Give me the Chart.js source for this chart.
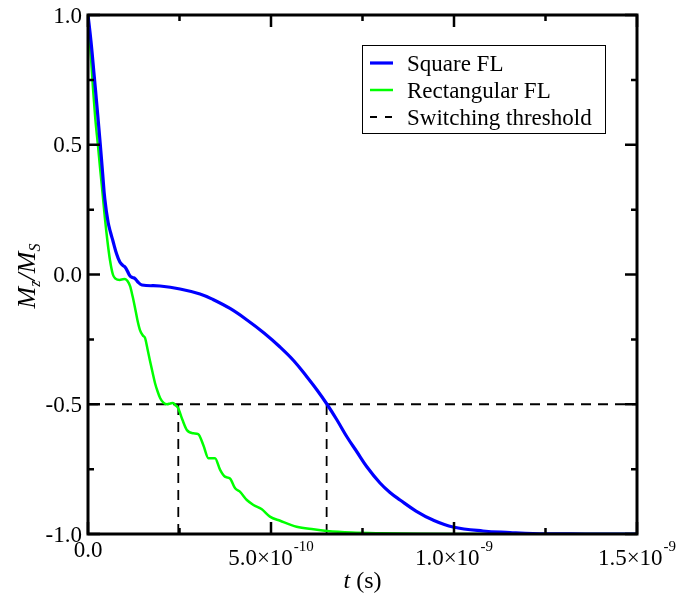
<!DOCTYPE html>
<html>
<head>
<meta charset="utf-8">
<script src="https://cdn.jsdelivr.net/npm/chart.js@4.4.0/dist/chart.umd.min.js"></script>
<style>
  html, body { margin: 0; padding: 0; background: #fff; }
  #wrap { width: 679px; height: 594px; }
</style>
</head>
<body>
<div id="wrap"><canvas id="mzChart" width="679" height="594"></canvas></div>
<script>
// time in ns, Mz/Ms
const tSquare = [0, 0.008, 0.016, 0.025, 0.033, 0.040, 0.046, 0.055, 0.062, 0.068, 0.078, 0.087, 0.095, 0.101,
    0.108, 0.115, 0.122, 0.128, 0.135, 0.1475, 0.1967, 0.2514, 0.306, 0.3415, 0.388, 0.4344, 0.4809, 0.5246,
    0.5628, 0.5984, 0.6257, 0.653, 0.6803, 0.7077, 0.735, 0.7623, 0.7978, 0.8251, 0.8525, 0.8962, 0.9426,
    0.9973, 1.0792, 1.153, 1.2158, 1.3169, 1.4, 1.5];
const mzSquare = [1.0, 0.90, 0.78, 0.64, 0.51, 0.39, 0.29, 0.20, 0.16, 0.13, 0.08, 0.048, 0.035, 0.029,
    0.012, -0.006, -0.012, -0.015, -0.027, -0.0405, -0.0443, -0.0559, -0.0752, -0.0963, -0.131, -0.1753, -0.2254, -0.2794,
    -0.3333, -0.395, -0.4451, -0.5, -0.5607, -0.6262, -0.684, -0.7418, -0.8035, -0.8401, -0.869, -0.9114, -0.9461,
    -0.973, -0.9884, -0.9942, -0.9981, -0.9999, -1.0, -1.0];

const tRect = [0, 0.007, 0.014, 0.020, 0.027, 0.033, 0.040, 0.046, 0.053, 0.060, 0.068, 0.075, 0.087, 0.095,
    0.101, 0.108, 0.115, 0.122, 0.128, 0.135, 0.142, 0.150, 0.156, 0.163, 0.169, 0.176, 0.183, 0.190, 0.197,
    0.206, 0.216, 0.225, 0.232, 0.240, 0.246, 0.258, 0.270, 0.288, 0.301, 0.315, 0.329, 0.347, 0.361, 0.374,
    0.388, 0.402, 0.415, 0.434, 0.452, 0.475, 0.497, 0.525, 0.570, 0.616, 0.653, 0.720, 0.800, 0.900, 1.000, 1.500];
const mzRect = [1.0, 0.86, 0.71, 0.60, 0.50, 0.41, 0.31, 0.22, 0.13, 0.056, 0.0, -0.016, -0.021, -0.018,
    -0.017, -0.025, -0.045, -0.085, -0.125, -0.175, -0.214, -0.235, -0.245, -0.29, -0.33, -0.375, -0.418, -0.45, -0.476,
    -0.494, -0.5, -0.497, -0.495, -0.505, -0.514, -0.56, -0.599, -0.612, -0.615, -0.657, -0.708, -0.708, -0.753, -0.779,
    -0.786, -0.824, -0.837, -0.869, -0.888, -0.905, -0.933, -0.949, -0.972, -0.982, -0.988, -0.994, -0.997, -0.999, -1.0, -1.0];

const thresholdLevel = -0.5;
const switchTimes = [0.2467, 0.652]; // ns

const legendLabels = ['Square FL', 'Rectangular FL', 'Switching threshold'];

const xMajorTicks = [0, 5e-10, 1e-9, 1.5e-9];
const xMinorTicks = [2.5e-10, 7.5e-10, 1.25e-9];
const xTickLabels = ['0.0', '5.0×10', '1.0×10', '1.5×10'];
const xTickExponents = ['', '-10', '-9', '-9'];
const yMajorTicks = [-1, -0.5, 0, 0.5, 1];
const yMinorTicks = [-0.75, -0.25, 0.25, 0.75];
const yTickLabels = ['-1.0', '-0.5', '0.0', '0.5', '1.0'];

const SERIF = '"Liberation Serif", "Times New Roman", serif';

function toPoints(ts, ys) {
    return ts.map((t, i) => ({ x: t * 1e-9, y: ys[i] }));
}

const dashStyle = { borderColor: '#000', borderWidth: 1.8, borderDash: [10, 7], pointRadius: 0, fill: false };

const datasets = [
    {
        label: legendLabels[0],
        data: toPoints(tSquare, mzSquare),
        borderColor: '#0000ff',
        borderWidth: 3.2,
        pointRadius: 0,
        tension: 0.4,
        fill: false
    },
    {
        label: legendLabels[1],
        data: toPoints(tRect, mzRect),
        borderColor: '#00ff00',
        borderWidth: 2.5,
        pointRadius: 0,
        cubicInterpolationMode: 'monotone',
        fill: false
    },
    Object.assign({ label: legendLabels[2], data: [{ x: 0, y: thresholdLevel }, { x: 1.5e-9, y: thresholdLevel }] }, dashStyle)
];
switchTimes.forEach(t => {
    datasets.push(Object.assign({ label: '', data: [{ x: t * 1e-9, y: -1 }, { x: t * 1e-9, y: thresholdLevel }] }, dashStyle));
});

// frame, inward ticks, labels, titles and legend in the grace style
const framePlugin = {
    id: 'frame',
    afterDatasetsDraw(chart) {
        const ctx = chart.ctx;
        const a = chart.chartArea;
        const xs = chart.scales.x, ys = chart.scales.y;
        ctx.save();
        ctx.strokeStyle = '#000';
        ctx.lineWidth = 3;
        ctx.strokeRect(a.left, a.top, a.right - a.left, a.bottom - a.top);

        ctx.lineWidth = 2.5;
        ctx.beginPath();
        const tick = (vals, len) => {
            vals.forEach(v => {
                const px = xs.getPixelForValue(v);
                ctx.moveTo(px, a.bottom); ctx.lineTo(px, a.bottom - len);
                ctx.moveTo(px, a.top); ctx.lineTo(px, a.top + len);
            });
        };
        const ytick = (vals, len) => {
            vals.forEach(v => {
                const py = ys.getPixelForValue(v);
                ctx.moveTo(a.left, py); ctx.lineTo(a.left + len, py);
                ctx.moveTo(a.right, py); ctx.lineTo(a.right - len, py);
            });
        };
        tick(xMajorTicks, 12); tick(xMinorTicks, 6);
        ytick(yMajorTicks, 12); ytick(yMinorTicks, 6);
        ctx.stroke();

        ctx.fillStyle = '#000';
        // x tick labels
        const mainFont = '23px ' + SERIF, supFont = '15px ' + SERIF;
        xMajorTicks.forEach((v, i) => {
            const px = xs.getPixelForValue(v);
            ctx.font = mainFont;
            const wMain = ctx.measureText(xTickLabels[i]).width;
            ctx.font = supFont;
            const wSup = xTickExponents[i] ? ctx.measureText(xTickExponents[i]).width + 1 : 0;
            const x0 = px - (wMain + wSup) / 2;
            ctx.textAlign = 'left';
            ctx.textBaseline = 'alphabetic';
            ctx.font = mainFont;
            if (xTickExponents[i]) {
                ctx.fillText(xTickLabels[i], x0, a.bottom + 31);
                ctx.font = supFont;
                ctx.fillText(xTickExponents[i], x0 + wMain + 1, a.bottom + 17);
            } else {
                ctx.fillText(xTickLabels[i], x0, a.bottom + 23);
            }
        });
        // y tick labels
        ctx.font = mainFont;
        ctx.textAlign = 'right';
        yMajorTicks.forEach((v, i) => {
            ctx.fillText(yTickLabels[i], a.left - 6, ys.getPixelForValue(v) + 7.5);
        });

        // x title: t (s)
        ctx.textAlign = 'left';
        ctx.font = 'italic 24px ' + SERIF;
        const wt = ctx.measureText('t').width;
        ctx.font = '24px ' + SERIF;
        const ws = ctx.measureText(' (s)').width;
        const xc = (a.left + a.right) / 2;
        ctx.font = 'italic 24px ' + SERIF;
        ctx.fillText('t', xc - (wt + ws) / 2, 588);
        ctx.font = '24px ' + SERIF;
        ctx.fillText(' (s)', xc - (wt + ws) / 2 + wt, 588);

        // y title: Mz/MS rotated
        const parts = [
            { s: 'M', f: 'italic 26px ' + SERIF, dy: 0 },
            { s: 'z', f: 'italic 16px ' + SERIF, dy: 5 },
            { s: '/', f: 'italic 26px ' + SERIF, dy: 0 },
            { s: 'M', f: 'italic 26px ' + SERIF, dy: 0 },
            { s: 'S', f: 'italic 16px ' + SERIF, dy: 5 }
        ];
        let total = 0;
        parts.forEach(p => { ctx.font = p.f; p.w = ctx.measureText(p.s).width; total += p.w; });
        ctx.save();
        ctx.translate(35, 276);
        ctx.rotate(-Math.PI / 2);
        let cx = -total / 2;
        parts.forEach(p => { ctx.font = p.f; ctx.fillText(p.s, cx, p.dy); cx += p.w; });
        ctx.restore();

        // legend box
        ctx.lineWidth = 1;
        ctx.strokeStyle = '#000';
        ctx.strokeRect(362.5, 45.5, 243, 88);
        const rows = [63, 90, 117];
        ctx.font = '23px ' + SERIF;
        legendLabels.forEach((lbl, i) => {
            const ds = chart.data.datasets[i];
            ctx.save();
            ctx.strokeStyle = ds.borderColor;
            ctx.lineWidth = i === 2 ? 1.8 : ds.borderWidth;
            ctx.setLineDash(i === 2 ? [7, 8] : []);
            ctx.beginPath();
            ctx.moveTo(370, rows[i]); ctx.lineTo(393, rows[i]);
            ctx.stroke();
            ctx.restore();
            ctx.fillText(lbl, 407, rows[i] + 7.5);
        });
        ctx.restore();
    }
};

function renderMzChart(canvasId) {
    const el = document.getElementById(canvasId);
    if (!el) {
        console.error(`Canvas element with ID ${canvasId} not found`);
        return;
    }
    el.chart = new Chart(el.getContext('2d'), {
        type: 'line',
        data: { datasets: datasets },
        options: {
            responsive: false,
            animation: false,
            devicePixelRatio: 1,
            layout: { padding: { left: 88, right: 42, top: 15, bottom: 60 } },
            plugins: { legend: { display: false }, tooltip: { enabled: false } },
            scales: {
                x: { type: 'linear', min: 0, max: 1.5e-9, display: false },
                y: { type: 'linear', min: -1, max: 1, display: false }
            }
        },
        plugins: [framePlugin]
    });
}

renderMzChart('mzChart');
</script>
</body>
</html>
